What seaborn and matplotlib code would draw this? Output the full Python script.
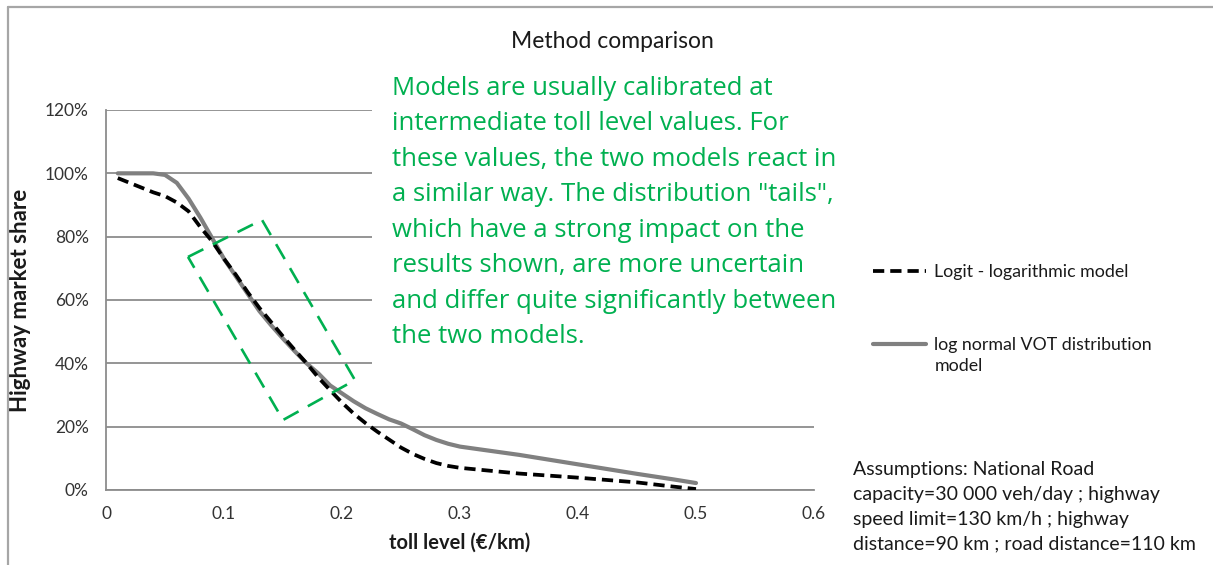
import matplotlib
matplotlib.use("Agg")
import numpy as np
import pandas as pd
import seaborn as sns
import matplotlib.pyplot as plt
from matplotlib.lines import Line2D
from matplotlib.patches import Polygon
from matplotlib.ticker import FuncFormatter

# Toll level (€/km) and highway market share (%) for both demand models
toll = [0.01, 0.02, 0.03, 0.04, 0.05, 0.06, 0.07, 0.08, 0.09, 0.10,
        0.11, 0.12, 0.13, 0.14, 0.15, 0.16, 0.17, 0.18, 0.19, 0.20,
        0.21, 0.22, 0.23, 0.24, 0.25, 0.26, 0.27, 0.28, 0.29, 0.30,
        0.35, 0.40, 0.45, 0.48, 0.50]
logit_share = [98.5, 97.0, 95.5, 94.0, 92.8, 90.8, 88.0, 83.0, 78.5, 73.0,
               68.0, 62.5, 57.5, 53.0, 48.5, 44.2, 40.0, 35.5, 31.5, 27.6,
               24.1, 21.1, 18.4, 15.9, 13.4, 11.4, 9.8, 8.5, 7.6, 7.0,
               5.2, 3.9, 2.4, 1.1, 0.3]
lognormal_share = [100.0, 100.0, 100.0, 100.0, 99.5, 97.0, 92.0, 86.0, 79.5, 73.0,
                   67.5, 62.0, 56.5, 52.0, 47.8, 43.8, 40.0, 36.8, 33.0, 30.5,
                   28.0, 25.8, 24.0, 22.3, 21.0, 19.2, 17.3, 15.8, 14.6, 13.7,
                   11.1, 8.1, 5.1, 3.4, 2.2]

series_names = ["Logit - logarithmic model", "log normal VOT distribution"]
x_ticks = [0, 0.1, 0.2, 0.3, 0.4, 0.5, 0.6]
y_ticks = [0, 20, 40, 60, 80, 100, 120]

title_text = "Method comparison"
x_label = "toll level (€/km)"
y_label = "Highway market share"
note_text = ("Models are usually calibrated at\n"
             "intermediate toll level values. For\n"
             "these values, the two models react in\n"
             "a similar way. The distribution \"tails\",\n"
             "which have a strong impact on the\n"
             "results shown, are more uncertain\n"
             "and differ quite significantly between\n"
             "the two models.")
assumptions_text = ("Assumptions: National Road\n"
                    "capacity=30 000 veh/day ; highway\n"
                    "speed limit=130 km/h ; highway\n"
                    "distance=90 km ; road distance=110 km")

# Calibration zone outline (toll, share %)
zone_corners = [(0.0695, 73.6), (0.1322, 85.3), (0.211, 34.7), (0.150, 22.1)]

sns.set_theme(style="white")
plt.rcParams["font.family"] = ["Lato", "DejaVu Sans"]

W, H = 1213, 565
fig = plt.figure(figsize=(W / 100, H / 100), dpi=100)
ax = fig.add_axes([106 / W, 1 - 490 / H, (814 - 106) / W, (490 - 110) / H])

logit_df = pd.DataFrame({"toll": toll, "share": logit_share})
lognorm_df = pd.DataFrame({"toll": toll, "share": lognormal_share})

sns.lineplot(data=lognorm_df, x="toll", y="share", ax=ax, color="#808080",
             lw=3.0, sort=False, label=series_names[1], zorder=3)
sns.lineplot(data=logit_df, x="toll", y="share", ax=ax, color="black",
             lw=2.7, sort=False, label=series_names[0], zorder=4)
ax.lines[-1].set_dashes((3.0, 1.6))

ax.add_patch(Polygon(zone_corners, closed=True, fill=False,
                     edgecolor="#00B050", lw=1.9, ls=(0, (6.5, 4.0)),
                     zorder=5))

ax.set_xlim(0, 0.6)
ax.set_ylim(0, 120)
ax.set_xticks(x_ticks)
ax.set_yticks(y_ticks)
ax.xaxis.set_major_formatter(FuncFormatter(lambda v, p: "0" if v == 0 else f"{v:g}"))
ax.yaxis.set_major_formatter(FuncFormatter(lambda v, p: f"{v:.0f}%"))
ax.grid(axis="y", color="#8c8c8c", lw=1.3)
ax.grid(axis="x", visible=False)
for side in ("top", "right"):
    ax.spines[side].set_visible(False)
for side in ("left", "bottom"):
    ax.spines[side].set_color("#8c8c8c")
    ax.spines[side].set_linewidth(1.3)
ax.tick_params(axis="both", which="major", direction="out", length=4.5,
               width=1.3, color="#8c8c8c", labelsize=12.5, labelcolor="#333333")
ax.tick_params(axis="y", pad=8)
ax.tick_params(axis="x", pad=7)
ax.set_xlabel(x_label, fontsize=14.5, fontweight="bold", color="#1a1a1a", labelpad=8)
ax.set_ylabel(y_label, fontsize=16, fontweight="bold", color="#1a1a1a", labelpad=10)

# Legend placed to the right of the plot area
handles, labels = ax.get_legend_handles_labels()
order = [labels.index(series_names[0]), labels.index(series_names[1])]
leg = ax.legend([handles[i] for i in order], [labels[i] for i in order],
                loc="upper left", bbox_to_anchor=(873 / W, 1 - 264 / H),
                bbox_transform=fig.transFigure, frameon=False,
                fontsize=12.8, handlelength=3.0, handletextpad=0.45,
                labelspacing=3.2, borderpad=0, borderaxespad=0,
                labelcolor="#1a1a1a")
fig.text(935 / W, 1 - 366 / H, "model", fontsize=12.8, color="#1a1a1a",
         va="center", ha="left")

fig.text(612 / W, 1 - 41 / H, title_text, fontsize=16.5, color="#1a1a1a",
         ha="center", va="center")

fig.text(392 / W, 1 - 76 / H, note_text, fontsize=18.5, color="#00B050",
         ha="left", va="top", linespacing=1.55,
         family=["Open Sans", "DejaVu Sans"],
         bbox=dict(facecolor="white", edgecolor="none", pad=14))

fig.text(853 / W, 1 - 461 / H, assumptions_text, fontsize=14,
         color="#1a1a1a", ha="left", va="top", linespacing=1.56)

# Outer chart frame
fig.add_artist(Line2D([8 / W, 1.0], [1 - 6.5 / H, 1 - 6.5 / H],
                      transform=fig.transFigure, color="#a6a6a6", lw=1.6))
fig.add_artist(Line2D([8 / W, 8 / W], [1 - 6.5 / H, 0.0],
                      transform=fig.transFigure, color="#a6a6a6", lw=1.6))

fig.savefig("out.png", dpi=100)
